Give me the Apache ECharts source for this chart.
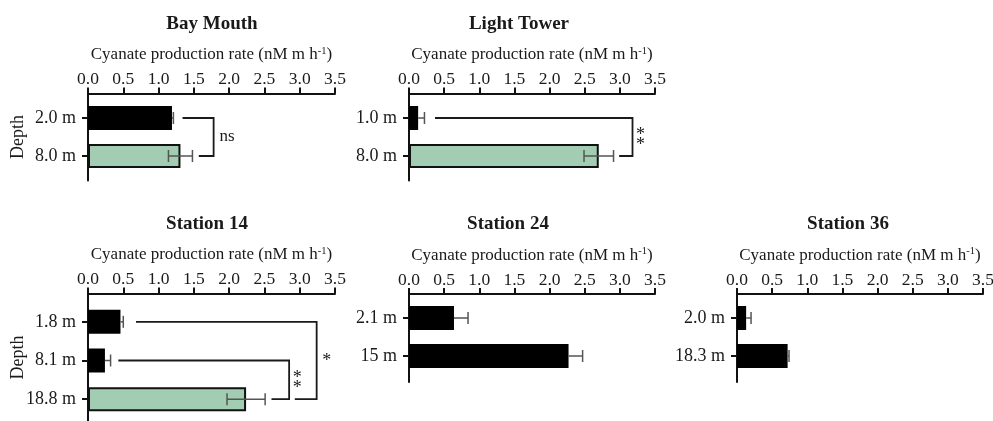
<!DOCTYPE html>
<html>
<head>
<meta charset="utf-8">
<script src="https://cdn.jsdelivr.net/npm/echarts@6/dist/echarts.min.js"></script>
<style>
  html, body { margin: 0; padding: 0; background: #fff; }
  #chart { width: 993px; height: 421px; }
</style>
</head>
<body>
<div id="chart"></div>
<script>
// Sampling stations and the depths sampled at each
const stations = ['Bay Mouth', 'Light Tower', 'Station 14', 'Station 24', 'Station 36'];
const depthLabels = [
  ['2.0 m', '8.0 m'],
  ['1.0 m', '8.0 m'],
  ['1.8 m', '8.1 m', '18.8 m'],
  ['2.1 m', '15 m'],
  ['2.0 m', '18.3 m']
];
// Mean cyanate production rate (nM m h^-1) and its error, per depth
const rateMeans = [
  [1.19, 1.31],
  [0.13, 2.70],
  [0.46, 0.24, 2.24],
  [0.64, 2.27],
  [0.13, 0.72]
];
const rateErrors = [
  [0.02, 0.17],
  [0.09, 0.21],
  [0.04, 0.08, 0.27],
  [0.20, 0.20],
  [0.07, 0.02]
];
// Depth that the shallower samples are tested against (-1: no test)
const testedDepth = [1, 1, 2, -1, -1];
// Significance brackets: rows joined, where each arm starts, where the bracket stands, label
const bracketRows = [[[0, 1]], [[0, 1]], [[0, 2], [1, 2]], [], []];
const bracketStarts = [[[1.34, 1.57]], [[0.37, 2.99]], [[0.68, 2.93], [0.43, 2.60]], [], []];
const bracketAt = [[1.78], [3.18], [3.24, 2.85], [], []];
const bracketLabels = [['ns'], ['**'], ['*', '**'], [], []];
const rateMin = 0, rateMax = 3.5, rateStep = 0.5;

const FONT = 'Liberation Serif';
const INK = '#1a1a1a';
const AXIS = '#111';
const GREEN = '#a3cdb3';

// Panel placement on the page
const panels = [
  { left: 88,  width: 247, titleX: 212, titleTop: 15,  axisTop: 93.5,  axisH: 87,  bandTop: 99,    bandH: 76,  depthName: true },
  { left: 409, width: 246, titleX: 519, titleTop: 15,  axisTop: 93.5,  axisH: 87,  bandTop: 99,    bandH: 76,  depthName: false },
  { left: 88,  width: 247, titleX: 207, titleTop: 215, axisTop: 293.5, axisH: 128, bandTop: 302.5, bandH: 116, depthName: true },
  { left: 409, width: 246, titleX: 508, titleTop: 215, axisTop: 294,   axisH: 88,  bandTop: 299,   bandH: 76,  depthName: false },
  { left: 737, width: 246, titleX: 848, titleTop: 215, axisTop: 294,   axisH: 88,  bandTop: 299,   bandH: 76,  depthName: false }
];

const title = [], grid = [], xAxis = [], yAxis = [], series = [];

panels.forEach((pl, p) => {
  title.push({
    text: stations[p],
    left: pl.titleX,
    top: pl.titleTop,
    textAlign: 'center',
    padding: 0,
    textStyle: { fontFamily: FONT, fontWeight: 'bold', fontSize: 19, color: INK }
  });

  // Frame grid: carries the rate axis on top and the long depth-axis line
  grid.push({ left: pl.left, top: pl.axisTop, width: pl.width, height: pl.axisH, outerBoundsMode: 'none', containLabel: false });
  // Band grid: holds the bars, one band per depth
  grid.push({ left: pl.left, top: pl.bandTop, width: pl.width, height: pl.bandH, outerBoundsMode: 'none', containLabel: false });

  const gFrame = 2 * p, gBand = 2 * p + 1;

  xAxis.push({
    gridIndex: gFrame, type: 'value', position: 'top',
    min: rateMin, max: rateMax, interval: rateStep,
    axisLine: { show: true, onZero: false, lineStyle: { color: AXIS, width: 2 } },
    axisTick: { show: true, length: 6, lineStyle: { color: AXIS, width: 2 } },
    axisLabel: { fontFamily: FONT, fontSize: 17.5, color: INK, margin: 5, formatter: v => v.toFixed(1) },
    splitLine: { show: false },
    name: '{n|Cyanate production rate (nM m h}{s|-1}{n|)}',
    nameLocation: 'middle',
    nameGap: 29,
    nameTextStyle: {
      fontFamily: FONT, fontSize: 17, color: INK,
      rich: {
        n: { fontFamily: FONT, fontSize: 17, color: INK, lineHeight: 19 },
        s: { fontFamily: FONT, fontSize: 10.5, color: INK, verticalAlign: 'top', lineHeight: 10 }
      }
    }
  });
  xAxis.push({ gridIndex: gBand, type: 'value', min: rateMin, max: rateMax, show: false });

  yAxis.push({
    gridIndex: gFrame, type: 'value', min: 0, max: 1,
    axisLine: { show: true, onZero: false, lineStyle: { color: AXIS, width: 2 } },
    axisTick: { show: false }, axisLabel: { show: false }, splitLine: { show: false },
    name: pl.depthName ? 'Depth' : '',
    nameLocation: 'middle', nameGap: 61, nameRotate: 90,
    nameTextStyle: { fontFamily: FONT, fontSize: 18, color: INK }
  });
  yAxis.push({
    gridIndex: gBand, type: 'category', inverse: true,
    data: depthLabels[p],
    axisLine: { show: false },
    axisTick: { show: true, alignWithLabel: true, length: 6, lineStyle: { color: AXIS, width: 2 } },
    axisLabel: { fontFamily: FONT, fontSize: 18, color: INK, margin: 12 },
    splitLine: { show: false }
  });

  // Rate bars
  series.push({
    type: 'bar', xAxisIndex: gBand, yAxisIndex: gBand,
    barWidth: 24, silent: true, z: 2,
    data: rateMeans[p].map((v, i) => ({
      value: v,
      itemStyle: i === testedDepth[p]
        ? { color: GREEN, borderColor: AXIS, borderWidth: 2 }
        : { color: '#000' }
    }))
  });

  // Error bars (only the outer half shows past a black bar)
  series.push({
    type: 'custom', xAxisIndex: gBand, yAxisIndex: gBand, z: 3, silent: true,
    encode: { x: 0, y: 1 },
    data: rateMeans[p].map((m, i) => [m, i, rateErrors[p][i], i === testedDepth[p] ? 1 : 0]),
    renderItem: (params, api) => {
      const m = api.value(0), c = api.value(1), e = api.value(2), full = api.value(3) === 1;
      const lo = api.coord([full ? m - e : m, c]);
      const hi = api.coord([m + e, c]);
      const cap = 6;
      const st = { stroke: '#555', lineWidth: 1.5 };
      const children = [
        { type: 'line', shape: { x1: lo[0], y1: lo[1], x2: hi[0], y2: hi[1] }, style: st },
        { type: 'line', shape: { x1: hi[0], y1: hi[1] - cap, x2: hi[0], y2: hi[1] + cap }, style: st }
      ];
      if (full) {
        children.push({ type: 'line', shape: { x1: lo[0], y1: lo[1] - cap, x2: lo[0], y2: lo[1] + cap }, style: st });
      }
      return { type: 'group', children };
    }
  });

  // Significance brackets
  if (bracketRows[p].length) {
    series.push({
      type: 'custom', xAxisIndex: gBand, yAxisIndex: gBand, z: 3, silent: true,
      encode: { x: [0, 2, 4], y: [1, 3] },
      data: bracketRows[p].map((r, k) => [bracketStarts[p][k][0], r[0], bracketStarts[p][k][1], r[1], bracketAt[p][k]]),
      renderItem: (params, api) => {
        const a = api.value(1), b = api.value(3), xv = api.value(4);
        const pA = api.coord([api.value(0), a]);
        const cA = api.coord([xv, a]);
        const cB = api.coord([xv, b]);
        const pB = api.coord([api.value(2), b]);
        const label = bracketLabels[p][params.dataIndex];
        const isNs = label === 'ns';
        const stacked = label.length > 1 && label[0] === '*';
        return {
          type: 'group',
          children: [
            {
              type: 'polyline',
              shape: { points: [pA, cA, cB, pB] },
              style: { stroke: INK, lineWidth: 1.8, fill: null }
            },
            {
              type: 'text',
              x: cA[0] + (isNs ? 6 : stacked ? 8 : 10),
              y: (cA[1] + cB[1]) / 2 + (isNs ? 0 : stacked ? 3 : 1),
              style: {
                text: stacked ? label.split('').join('\n') : label,
                fontFamily: FONT, fontSize: isNs ? 17 : 18,
                lineHeight: stacked ? 10 : 18,
                fill: INK,
                align: isNs ? 'left' : 'center',
                verticalAlign: 'middle'
              }
            }
          ]
        };
      }
    });
  }
});

const chart = echarts.init(document.getElementById('chart'), null, { renderer: 'canvas' });
chart.setOption({
  animation: false,
  backgroundColor: '#fff',
  title, grid, xAxis, yAxis, series
});
</script>
</body>
</html>
